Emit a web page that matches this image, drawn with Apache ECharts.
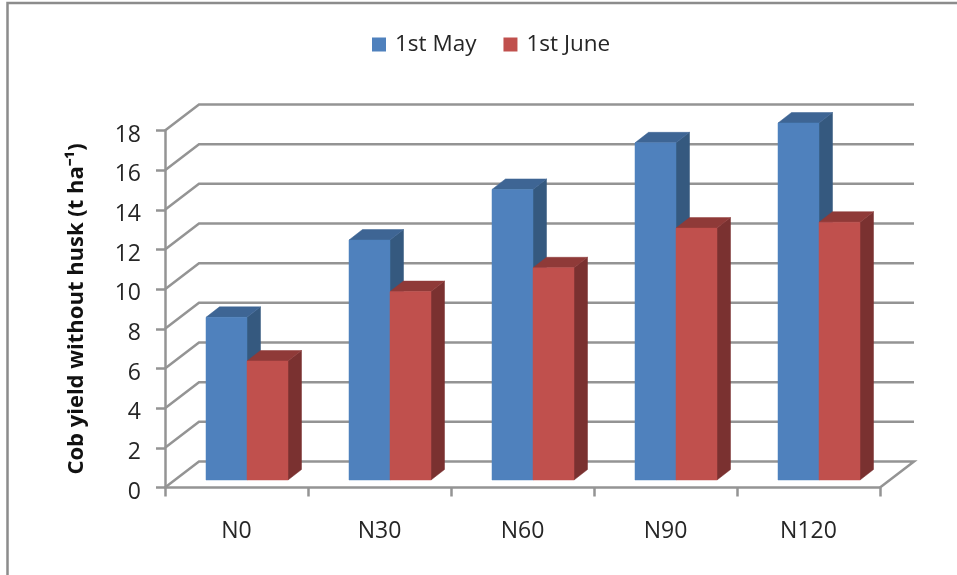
<!DOCTYPE html>
<html>
<head>
<meta charset="utf-8">
<style>
  html, body { margin: 0; padding: 0; background: #fff; }
  #chart { width: 957px; height: 575px; }
</style>
<script src="https://cdn.jsdelivr.net/npm/echarts@6/dist/echarts.min.js"></script>
</head>
<body>
<div id="chart"></div>
<script>
const categories = ['N0', 'N30', 'N60', 'N90', 'N120'];
const may = [8.2, 12.1, 14.65, 17, 18];
const june = [6, 9.5, 10.7, 12.7, 13];

const font = '"Open Sans", sans-serif';
const textColor = '#262626';
const gridColor = '#949494';

// depth of the fake 3d box, in pixels
const wallDx = 34;
const wallDy = -26;
const barDx = 10.5;
const barDy = -7.5;
const depthDx = 13.5;
const depthDy = -10.5;
const barShare = 41 / 143;

const poly = (points, fill) => ({
  type: 'polygon',
  shape: { points },
  style: { fill, stroke: fill, lineWidth: 0.5 },
});

const renderWalls = (params, api) => {
  const { x, width } = params.coordSys;
  const y = api.coord([0, api.value(0)])[1];
  const points = [[x, y], [x + wallDx, y + wallDy], [x + width + wallDx, y + wallDy]];
  if (api.value(0) === 0) {
    points.push([x + width, y]);
  }
  return {
    type: 'polyline',
    shape: { points },
    style: { fill: 'none', stroke: gridColor, lineWidth: 2.5 },
  };
};

const renderBar = (side, colors) => (params, api) => {
  const bandWidth = api.size([1, 0])[0];
  const barWidth = bandWidth * barShare;
  const top = api.coord([api.value(0), api.value(1)]);
  const base = api.coord([api.value(0), 0]);
  const x0 = top[0] + barDx + (side < 0 ? -barWidth : 0);
  const x1 = x0 + barWidth;
  const y0 = top[1] + barDy;
  const y1 = base[1] + barDy;
  return {
    type: 'group',
    children: [
      poly([[x1, y0], [x1 + depthDx, y0 + depthDy], [x1 + depthDx, y1 + depthDy], [x1, y1]], colors.side),
      poly([[x0, y0], [x0 + depthDx, y0 + depthDy], [x1 + depthDx, y0 + depthDy], [x1, y0]], colors.top),
      poly([[x0, y0], [x1, y0], [x1, y1], [x0, y1]], colors.front),
    ],
  };
};

const chart = echarts.init(document.getElementById('chart'));
chart.setOption({
  animation: false,
  backgroundColor: '#fff',
  grid: { left: 165, right: 77, top: 130.5, height: 357 },
  graphic: [{
    type: 'polyline',
    shape: { points: [[7.5, 575], [7.5, 3], [957, 3]] },
    style: { fill: 'none', stroke: '#8c8c8c', lineWidth: 2.5 },
  }],
  legend: {
    top: 28,
    left: 367,
    itemWidth: 14,
    itemHeight: 14,
    itemGap: 27,
    icon: 'rect',
    data: ['1st May', '1st June'],
    textStyle: { fontFamily: font, fontSize: 22.5, color: textColor, padding: [0, 0, 0, 4] },
  },
  xAxis: {
    type: 'category',
    data: categories,
    axisLine: { lineStyle: { color: gridColor, width: 2.5 } },
    axisTick: { show: true, length: 9, alignWithLabel: false, lineStyle: { color: gridColor, width: 2.5 } },
    axisLabel: { fontFamily: font, fontSize: 23, color: textColor, margin: 32 },
  },
  yAxis: {
    type: 'value',
    min: 0,
    max: 18,
    interval: 2,
    name: 'Cob yield without husk (t ha⁻¹)',
    nameLocation: 'middle',
    nameGap: 77,
    nameTextStyle: { fontFamily: font, fontSize: 22, fontWeight: 'bold', color: '#111' },
    splitLine: { show: false },
    axisLine: { show: true, lineStyle: { color: gridColor, width: 2.5 } },
    axisTick: { show: true, length: 9, lineStyle: { color: gridColor, width: 2.5 } },
    axisLabel: { fontFamily: font, fontSize: 23, color: textColor, margin: 24, verticalAlign: 'top', lineHeight: 9 },
  },
  series: [
    {
      type: 'custom',
      silent: true,
      z: 1,
      renderItem: renderWalls,
      data: [0, 2, 4, 6, 8, 10, 12, 14, 16, 18],
      encode: { y: 0 },
    },
    {
      name: '1st May',
      type: 'custom',
      z: 2,
      itemStyle: { color: '#4F81BD' },
      renderItem: renderBar(-1, { front: '#4F81BD', top: '#3E6594', side: '#35597F' }),
      data: may.map((v, i) => [i, v]),
      encode: { x: 0, y: 1 },
    },
    {
      name: '1st June',
      type: 'custom',
      z: 3,
      itemStyle: { color: '#C0504D' },
      renderItem: renderBar(1, { front: '#C0504D', top: '#8F3A38', side: '#7A3130' }),
      data: june.map((v, i) => [i, v]),
      encode: { x: 0, y: 1 },
    },
  ],
});
</script>
</body>
</html>
